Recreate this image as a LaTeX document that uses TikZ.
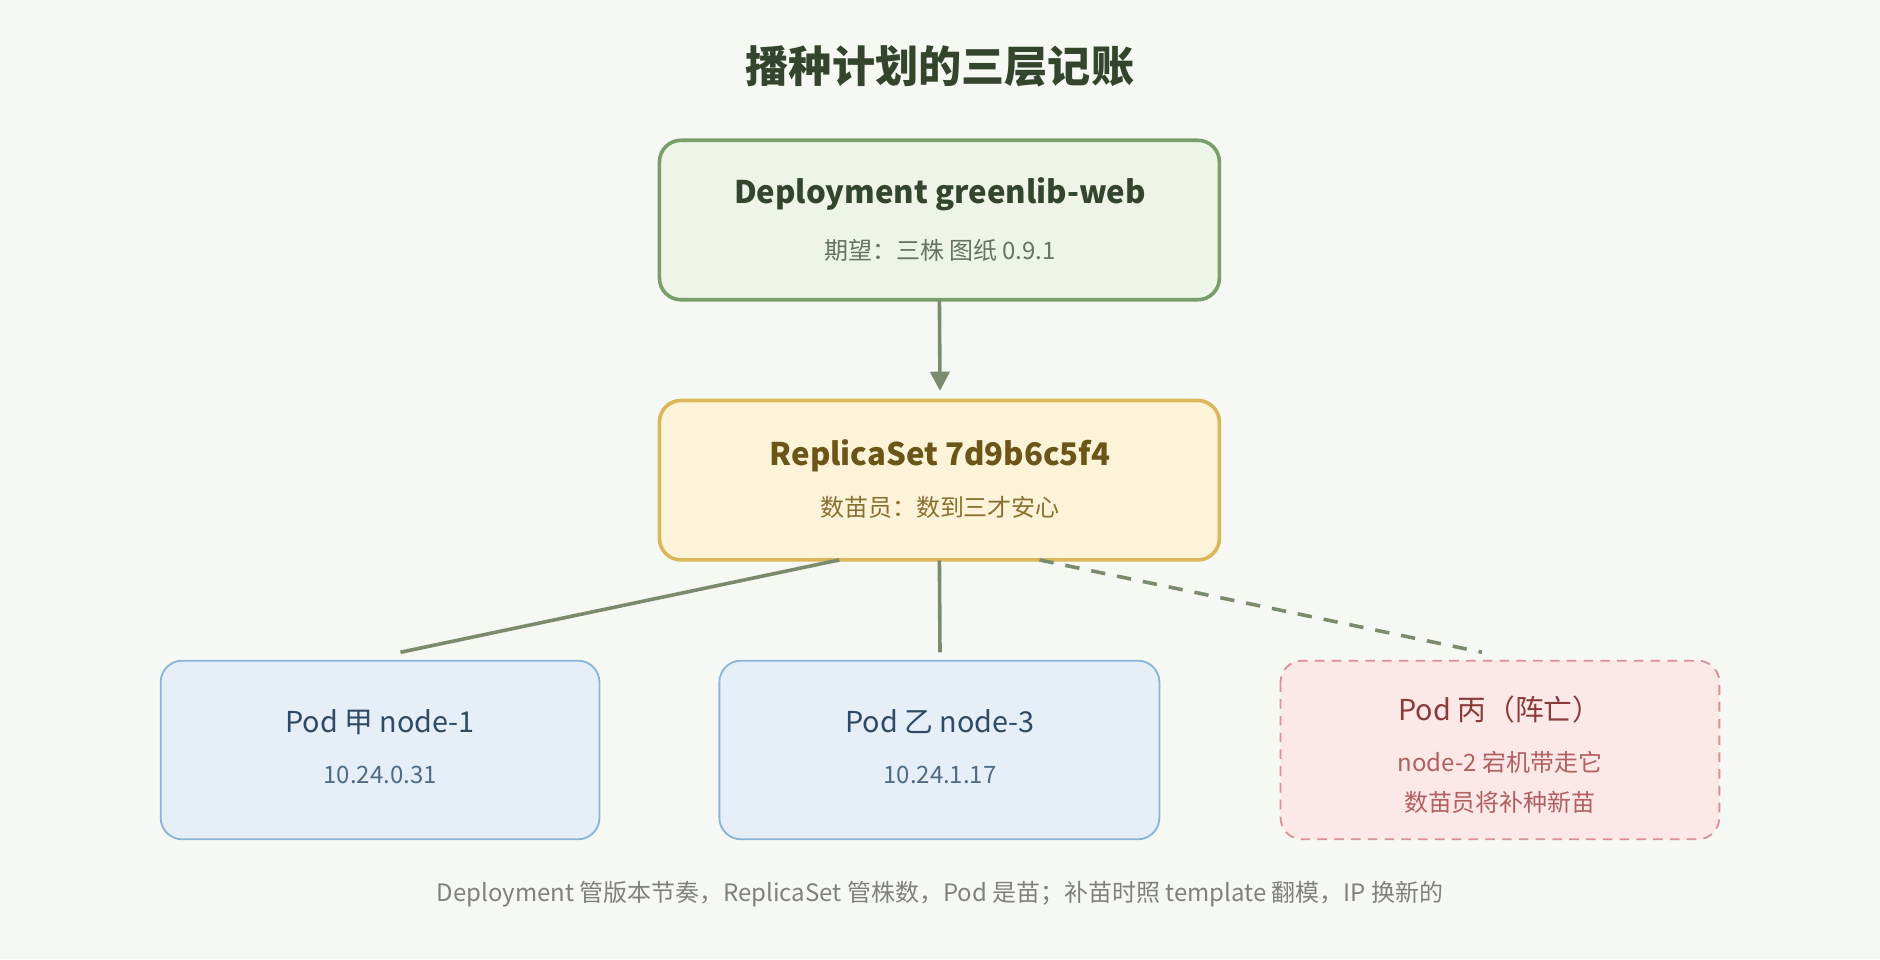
\documentclass[tikz,border=0pt]{standalone}
\usepackage{fontspec}
\setmainfont{Noto Sans CJK SC}
\usetikzlibrary{arrows.meta}
\definecolor{bg}{HTML}{F6F8F4}
\definecolor{tgreen}{HTML}{33452C}
\definecolor{dfill}{HTML}{EEF4E8}\definecolor{dline}{HTML}{7A9E6A}
\definecolor{rfill}{HTML}{FDF3D8}\definecolor{rline}{HTML}{D9B75A}
\definecolor{rtext}{HTML}{6B5518}\definecolor{rsub}{HTML}{8A7030}
\definecolor{pfill}{HTML}{E6EFF7}\definecolor{pline}{HTML}{8AB4D8}
\definecolor{ptext}{HTML}{2E4A66}\definecolor{psub}{HTML}{4F6C86}
\definecolor{xfill}{HTML}{FDE8E8}\definecolor{xline}{HTML}{DD8F96}
\definecolor{xtext}{HTML}{8A3A3A}\definecolor{xsub}{HTML}{B06060}
\definecolor{conn}{HTML}{7A8B6E}
\begin{document}
\begin{tikzpicture}[x=0.5pt,y=-0.5pt,
  box/.style={rounded corners=9pt},
  big/.style={line width=1.5pt,box},
  pod/.style={line width=0.75pt,box,draw=pline,fill=pfill},
  con/.style={draw=conn,line width=1.5pt}]
\fill[bg] (0,0) rectangle (1568,800);
\useasboundingbox (0,0) rectangle (1568,800);
\node[font=\bfseries\fontsize{18}{20}\selectfont,text=tgreen] (title) at (784,55) {播种计划的三层记账};
\draw[big,draw=dline,fill=dfill] (550,117) rectangle (1017,250);
\node[inner sep=0,minimum width=233.5pt,minimum height=66.5pt] (dep) at (783.5,183.5) {};
\node[font=\bfseries\fontsize{13}{15}\selectfont,text=tgreen] at (784,162) {Deployment greenlib-web};
\node[font=\fontsize{10}{12}\selectfont,text=tgreen!75] at (784,209) {期望：三株 图纸 0.9.1};
\draw[big,draw=rline,fill=rfill] (550,334) rectangle (1017,467);
\node[inner sep=0,minimum width=233.5pt,minimum height=66.5pt] (rs) at (783.5,400.5) {};
\node[font=\bfseries\fontsize{13}{15}\selectfont,text=rtext] at (784,380) {ReplicaSet 7d9b6c5f4};
\node[font=\fontsize{10}{12}\selectfont,text=rsub] at (784,423) {数苗员：数到三才安心};
\draw[pod] (134,551) rectangle (500,700);
\node[inner sep=0,minimum width=183pt,minimum height=74.5pt] (p1) at (317,625.5) {};
\node[font=\fontsize{12}{14}\selectfont,text=ptext] at (317,602) {Pod 甲 node-1};
\node[font=\fontsize{10}{12}\selectfont,text=psub] at (317,646) {10.24.0.31};
\draw[pod] (600,551) rectangle (967,700);
\node[inner sep=0,minimum width=183.5pt,minimum height=74.5pt] (p2) at (783.5,625.5) {};
\node[font=\fontsize{12}{14}\selectfont,text=ptext] at (784,602) {Pod 乙 node-3};
\node[font=\fontsize{10}{12}\selectfont,text=psub] at (784,646) {10.24.1.17};
\draw[box,line width=0.75pt,draw=xline,fill=xfill,dash pattern=on 4pt off 3pt] (1068,551) rectangle (1434,700);
\node[inner sep=0,minimum width=183pt,minimum height=74.5pt] (p3) at (1251,625.5) {};
\node[font=\fontsize{12}{14}\selectfont,text=xtext] at (1251,592) {Pod 丙（阵亡）};
\node[font=\fontsize{10}{12}\selectfont,text=xsub] at (1251,636) {node-2 宕机带走它};
\node[font=\fontsize{10}{12}\selectfont,text=xsub] at (1251,669) {数苗员将补种新苗};
\node[font=\fontsize{10}{12}\selectfont,text=black!50] (foot) at (784,746) {Deployment 管版本节奏，ReplicaSet 管株数，Pod 是苗；补苗时照 template 翻模，IP 换新的};
\coordinate (a1) at (784,326);
\draw[con,-{Triangle[length=8pt,width=8pt]}] (dep.south) -- (a1);
\coordinate (r1) at (700,467);\coordinate (e1) at (334,544);
\coordinate (e2) at (784,544);
\coordinate (r3) at (867,467);\coordinate (e3) at (1236,544);
\draw[con] (r1) -- (e1);
\draw[con] (rs.south) -- (e2);
\draw[con,dash pattern=on 6pt off 5pt] (r3) -- (e3);
\end{tikzpicture}
\end{document}
